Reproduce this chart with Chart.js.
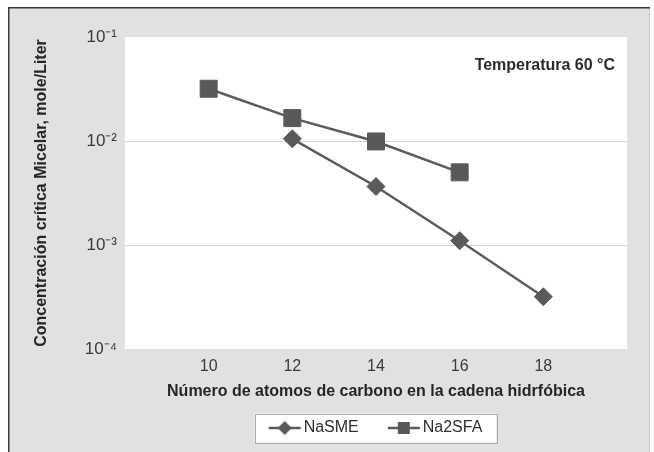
<!DOCTYPE html>
<html><head><meta charset="utf-8">
<script src="https://cdn.jsdelivr.net/npm/chart.js@4.4.1/dist/chart.umd.min.js"></script>
<style>html,body{margin:0;padding:0;background:#fff;}canvas{display:block;}</style>
</head><body>
<canvas id="c" width="654" height="452"></canvas>
<script>
const seriesNames = ['NaSME', 'Na2SFA'];
const naSMEcarbons = [12, 14, 16, 18];
const naSMEcmc = [0.0105, 0.00365, 0.0011, 0.000318];
const na2SFAcarbons = [10, 12, 14, 16];
const na2SFAcmc = [0.0318, 0.0166, 0.0099, 0.005];
const xTicks = [10, 12, 14, 16, 18];
const yTicks = [1e-4, 1e-3, 1e-2, 1e-1];
const yTickLabels = ['10⁻⁴', '10⁻³', '10⁻²', '10⁻¹'];
const xTitle = 'Número de atomos de carbono en la cadena hidrfóbica';
const yTitle = 'Concentración crítica Micelar, mole/Liter';
const noteText = 'Temperatura 60 °C';

const FONT = '"Liberation Sans", Arial, Helvetica, sans-serif';
const MARK = '#58595b';
const LINE = '#5a5b5d';

function legendIcon(kind) {
  const cv = document.createElement('canvas');
  cv.width = 58; cv.height = 16;
  const g = cv.getContext('2d');
  g.strokeStyle = LINE; g.lineWidth = 2.5;
  g.beginPath(); g.moveTo(25, 8); g.lineTo(57, 8); g.stroke();
  g.fillStyle = MARK;
  g.beginPath();
  if (kind === 'diamond') {
    g.moveTo(41, 1); g.lineTo(48, 8); g.lineTo(41, 15); g.lineTo(34, 8); g.closePath();
  } else {
    g.rect(35, 2, 12, 12);
  }
  g.fill();
  return cv;
}
const icons = [legendIcon('diamond'), legendIcon('square')];

const framePlugin = {
  id: 'frame',
  afterLayout(chart) {
    chart.legend.left -= 10;
    chart.legend.right -= 10;
  },
  beforeDraw(chart) {
    const ctx = chart.ctx, a = chart.chartArea;
    ctx.save();
    ctx.fillStyle = '#ffffff';
    ctx.fillRect(0, 0, chart.width, chart.height);
    ctx.fillStyle = '#e0e1e3';
    ctx.fillRect(8, 7, 642, 445);
    ctx.strokeStyle = '#c9cacc'; ctx.lineWidth = 1;
    ctx.beginPath(); ctx.moveTo(649.5, 7); ctx.lineTo(649.5, 452); ctx.stroke();
    ctx.strokeStyle = '#3a3a3a'; ctx.lineWidth = 1.5;
    ctx.beginPath(); ctx.moveTo(8.75, 452); ctx.lineTo(8.75, 7.75); ctx.lineTo(650, 7.75); ctx.stroke();
    ctx.fillStyle = '#ffffff';
    ctx.fillRect(a.left, a.top, a.right - a.left, a.bottom - a.top);
    const hb = chart.legend.legendHitBoxes;
    if (hb && hb.length) {
      const first = hb[0], last = hb[hb.length - 1];
      const cy = first.top + first.height / 2;
      const x0 = first.left + 19 - 14, x1 = last.left + last.width + 14;
      ctx.fillStyle = '#ffffff';
      ctx.fillRect(x0, cy - 14.5, x1 - x0, 29);
      ctx.strokeStyle = '#a9aaac'; ctx.lineWidth = 1;
      ctx.strokeRect(Math.round(x0) + 0.5, Math.round(cy - 14.5) + 0.5, Math.round(x1 - x0), 29);
    }
    ctx.restore();
  },
  afterDraw(chart) {
    const ctx = chart.ctx;
    ctx.save();
    ctx.font = 'bold 16px ' + FONT;
    ctx.fillStyle = '#2b2b2b';
    ctx.textAlign = 'right';
    ctx.textBaseline = 'middle';
    ctx.fillText(noteText, 615, 66);
    ctx.restore();
  }
};

new Chart(document.getElementById('c'), {
  type: 'line',
  data: {
    datasets: [
      {
        label: seriesNames[0],
        data: naSMEcarbons.map((x, i) => ({ x: x, y: naSMEcmc[i] })),
        borderColor: LINE, backgroundColor: MARK, borderWidth: 2.5,
        pointStyle: 'rectRot', pointRadius: 9, pointBorderWidth: 1,
        pointBackgroundColor: MARK, pointBorderColor: MARK, pointHoverRadius: 9
      },
      {
        label: seriesNames[1],
        data: na2SFAcarbons.map((x, i) => ({ x: x, y: na2SFAcmc[i] })),
        borderColor: LINE, backgroundColor: MARK, borderWidth: 2.5,
        pointStyle: 'rect', pointRadius: 12, pointBorderWidth: 1,
        pointBackgroundColor: MARK, pointBorderColor: MARK, pointHoverRadius: 12
      }
    ]
  },
  options: {
    responsive: false,
    animation: false,
    layout: { padding: { left: 0, right: 27, top: 37, bottom: 6 } },
    scales: {
      x: {
        type: 'linear', min: 8, max: 20,
        afterBuildTicks: s => { s.ticks = xTicks.map(v => ({ value: v })); },
        afterFit: s => { s.height = 61; },
        grid: { display: false, drawTicks: false },
        border: { display: false },
        ticks: { padding: 8, color: '#3a3a3a', font: { family: FONT, size: 16 }, maxRotation: 0 },
        title: { display: true, text: xTitle, color: '#262626', font: { family: FONT, size: 16, weight: 'bold' }, padding: { top: 0, bottom: 9 } }
      },
      y: {
        type: 'logarithmic', min: 1e-4, max: 1e-1,
        afterBuildTicks: s => { s.ticks = yTicks.map(v => ({ value: v, major: true })); },
        afterFit: s => { s.width = 125; },
        grid: {
          drawTicks: false,
          color: c => (c.tick && (c.tick.value === 1e-2 || c.tick.value === 1e-3)) ? '#d3d4d6' : 'rgba(0,0,0,0)',
          lineWidth: 1
        },
        border: { display: false },
        ticks: {
          padding: 8, color: '#3a3a3a', font: { family: FONT, size: 17 },
          callback: (v, i) => yTickLabels[yTicks.findIndex(t => Math.abs(Math.log10(t) - Math.log10(v)) < 1e-6)]
        },
        title: { display: true, text: yTitle, color: '#262626', font: { family: FONT, size: 16, weight: 'bold' }, padding: { top: 32, bottom: 0 } }
      }
    },
    plugins: {
      legend: {
        position: 'bottom', fullSize: false,
        labels: {
          usePointStyle: true, pointStyleWidth: 46, padding: 10, color: '#2f2f2f',
          font: { family: FONT, size: 16 },
          generateLabels: chart => {
            const items = Chart.defaults.plugins.legend.labels.generateLabels(chart);
            items.forEach((it, i) => { it.pointStyle = icons[i]; });
            return items;
          }
        }
      },
      tooltip: { enabled: false }
    }
  },
  plugins: [framePlugin]
});
</script>
</body></html>
